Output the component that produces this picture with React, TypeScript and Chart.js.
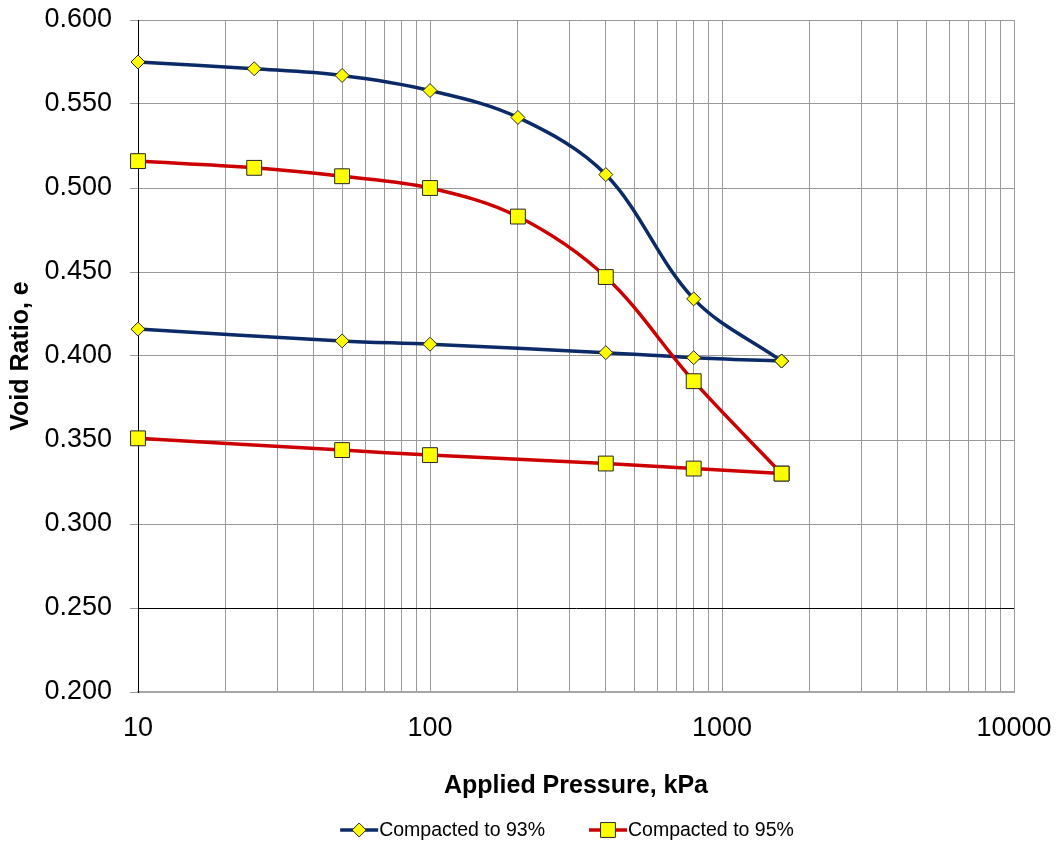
import { useEffect, useRef } from 'react';
import { Chart, registerables } from 'chart.js';

Chart.register(...registerables);

// Applied pressure steps (kPa) for the loading and unloading stages
const loadPressures = [10, 25, 50, 100, 200, 400, 800, 1600];
const unloadPressures = [1600, 800, 400, 100, 50, 10];

// Void ratio, specimen compacted to 93%
const voidLoad93 = [0.575, 0.571, 0.567, 0.558, 0.542, 0.508, 0.434, 0.397];
const voidUnload93 = [0.397, 0.399, 0.402, 0.407, 0.409, 0.416];

// Void ratio, specimen compacted to 95%
const voidLoad95 = [0.516, 0.512, 0.507, 0.5, 0.483, 0.447, 0.385, 0.33];
const voidUnload95 = [0.33, 0.333, 0.336, 0.341, 0.344, 0.351];

const seriesLabels = ['Compacted to 93%', 'Compacted to 95%'];

// Log-axis grid lines and the decade labels
const xGridValues = [
  10, 20, 30, 40, 50, 60, 70, 80, 90,
  100, 200, 300, 400, 500, 600, 700, 800, 900,
  1000, 2000, 3000, 4000, 5000, 6000, 7000, 8000, 9000,
  10000,
];
const xLabelValues = [10, 100, 1000, 10000];

const yMin = 0.2;
const yMax = 0.6;
const yStep = 0.05;
const darkGridValue = 0.25;

const FONT = "'Liberation Sans', Arial, Helvetica, sans-serif";
const BLUE = '#0c2a68';
const RED = '#cc0000';
const MARKER_FILL = '#ffff00';
const MARKER_EDGE = '#262626';
const GRID = '#9a9a9a';

type SeriesStyle = { label: string; color: string; marker: 'rectRot' | 'rect'; radius: number };

const seriesStyles: SeriesStyle[] = [
  { label: seriesLabels[0], color: BLUE, marker: 'rectRot', radius: 7 },
  { label: seriesLabels[1], color: RED, marker: 'rect', radius: 10.5 },
];

function toPoints(xs: number[], ys: number[]) {
  return xs.map((x, i) => ({ x, y: ys[i] }));
}

function drawMarker(ctx: CanvasRenderingContext2D, s: SeriesStyle, x: number, y: number) {
  ctx.beginPath();
  if (s.marker === 'rectRot') {
    const r = s.radius;
    ctx.moveTo(x - r, y);
    ctx.lineTo(x, y - r);
    ctx.lineTo(x + r, y);
    ctx.lineTo(x, y + r);
    ctx.closePath();
  } else {
    const h = Math.SQRT1_2 * s.radius;
    ctx.rect(x - h, y - h, 2 * h, 2 * h);
  }
  ctx.fillStyle = MARKER_FILL;
  ctx.fill();
  ctx.lineWidth = 1;
  ctx.strokeStyle = MARKER_EDGE;
  ctx.stroke();
}

// Legend in the spreadsheet style: a short line with the marker on it, then the text
const lineMarkerLegend = {
  id: 'lineMarkerLegend',
  afterDraw(chart: any) {
    const ctx: CanvasRenderingContext2D = chart.ctx;
    ctx.save();
    ctx.font = `19.5px ${FONT}`;
    ctx.textBaseline = 'middle';
    ctx.textAlign = 'left';
    const lineLen = 38;
    const textGap = 1;
    const itemGap = 44;
    const widths = seriesStyles.map((s) => ctx.measureText(s.label).width);
    const total =
      widths.reduce((a, w) => a + lineLen + textGap + w, 0) + itemGap * (seriesStyles.length - 1);
    const area = chart.chartArea;
    let x = (area.left + area.right) / 2 - 9 - total / 2;
    const y = chart.height - 14;
    seriesStyles.forEach((s, i) => {
      ctx.beginPath();
      ctx.moveTo(x, y);
      ctx.lineTo(x + lineLen, y);
      ctx.strokeStyle = s.color;
      ctx.lineWidth = 3.5;
      ctx.stroke();
      drawMarker(ctx, s, x + lineLen / 2, y);
      ctx.fillStyle = '#000';
      ctx.fillText(s.label, x + lineLen + textGap, y + 1);
      x += lineLen + textGap + widths[i] + itemGap;
    });
    ctx.restore();
  },
};

function makeDataset(label: string, s: SeriesStyle, data: { x: number; y: number }[], order: number) {
  return {
    label,
    data,
    order,
    clip: false,
    borderColor: s.color,
    borderWidth: 3.5,
    tension: 0.35,
    pointStyle: s.marker,
    pointRadius: s.radius,
    pointHoverRadius: s.radius,
    pointBackgroundColor: MARKER_FILL,
    pointBorderColor: MARKER_EDGE,
    pointBorderWidth: 1,
    fill: false,
  };
}

export default function App() {
  const canvasRef = useRef<HTMLCanvasElement | null>(null);

  useEffect(() => {
    const canvas = canvasRef.current;
    if (!canvas) return;

    const chart = new Chart(canvas, {
      type: 'line',
      data: {
        datasets: [
          makeDataset(seriesLabels[1], seriesStyles[1], toPoints(loadPressures, voidLoad95), 0),
          makeDataset(seriesLabels[1], seriesStyles[1], toPoints(unloadPressures, voidUnload95), 0),
          makeDataset(seriesLabels[0], seriesStyles[0], toPoints(loadPressures, voidLoad93), 1),
          makeDataset(seriesLabels[0], seriesStyles[0], toPoints(unloadPressures, voidUnload93), 1),
        ],
      },
      options: {
        animation: false,
        responsive: true,
        maintainAspectRatio: false,
        layout: { padding: { left: 0, top: 20, right: 44, bottom: 39 } },
        plugins: {
          legend: { display: false },
          tooltip: { enabled: false },
        },
        scales: {
          x: {
            type: 'logarithmic',
            min: 10,
            max: 10000,
            afterBuildTicks: (scale: any) => {
              scale.ticks = xGridValues.map((value) => ({ value }));
            },
            afterFit: (scale: any) => {
              scale.height = 113;
              // edge labels may overhang into the layout padding
              scale.paddingLeft = 0;
              scale.paddingRight = 0;
            },
            ticks: {
              autoSkip: false,
              maxRotation: 0,
              minRotation: 0,
              padding: 20,
              color: '#000',
              font: { family: FONT, size: 27 },
              callback: (value: any) => (xLabelValues.includes(Number(value)) ? String(value) : ''),
            },
            grid: { color: GRID, lineWidth: 1, drawTicks: false },
            border: { display: true, color: '#a6a6a6', width: 2 },
            title: {
              display: true,
              text: 'Applied Pressure, kPa',
              color: '#000',
              font: { family: FONT, size: 25, weight: 'bold' },
              padding: { top: 0, bottom: 4 },
            },
          },
          y: {
            type: 'linear',
            min: yMin,
            max: yMax,
            afterFit: (scale: any) => {
              scale.width = 138;
              scale.paddingTop = 0;
              scale.paddingBottom = 0;
            },
            ticks: {
              stepSize: yStep,
              padding: 18,
              color: '#000',
              font: { family: FONT, size: 27 },
              callback: (value: any) => Number(value).toFixed(3),
            },
            grid: {
              color: (ctx: any) =>
                ctx.tick && Math.abs(ctx.tick.value - darkGridValue) < 1e-9 ? '#000' : GRID,
              tickColor: GRID,
              tickLength: 8,
              lineWidth: 1,
            },
            border: { display: true, color: '#000', width: 1 },
            title: {
              display: true,
              text: 'Void Ratio, e',
              color: '#000',
              font: { family: FONT, size: 25, weight: 'bold' },
              padding: { top: 6, bottom: 0 },
            },
          },
        },
      },
      plugins: [lineMarkerLegend],
    } as any);

    return () => chart.destroy();
  }, []);

  return (
    <div style={{ position: 'fixed', left: 0, top: 0, width: 1058, height: 844, background: '#fff' }}>
      <canvas ref={canvasRef} />
    </div>
  );
}
